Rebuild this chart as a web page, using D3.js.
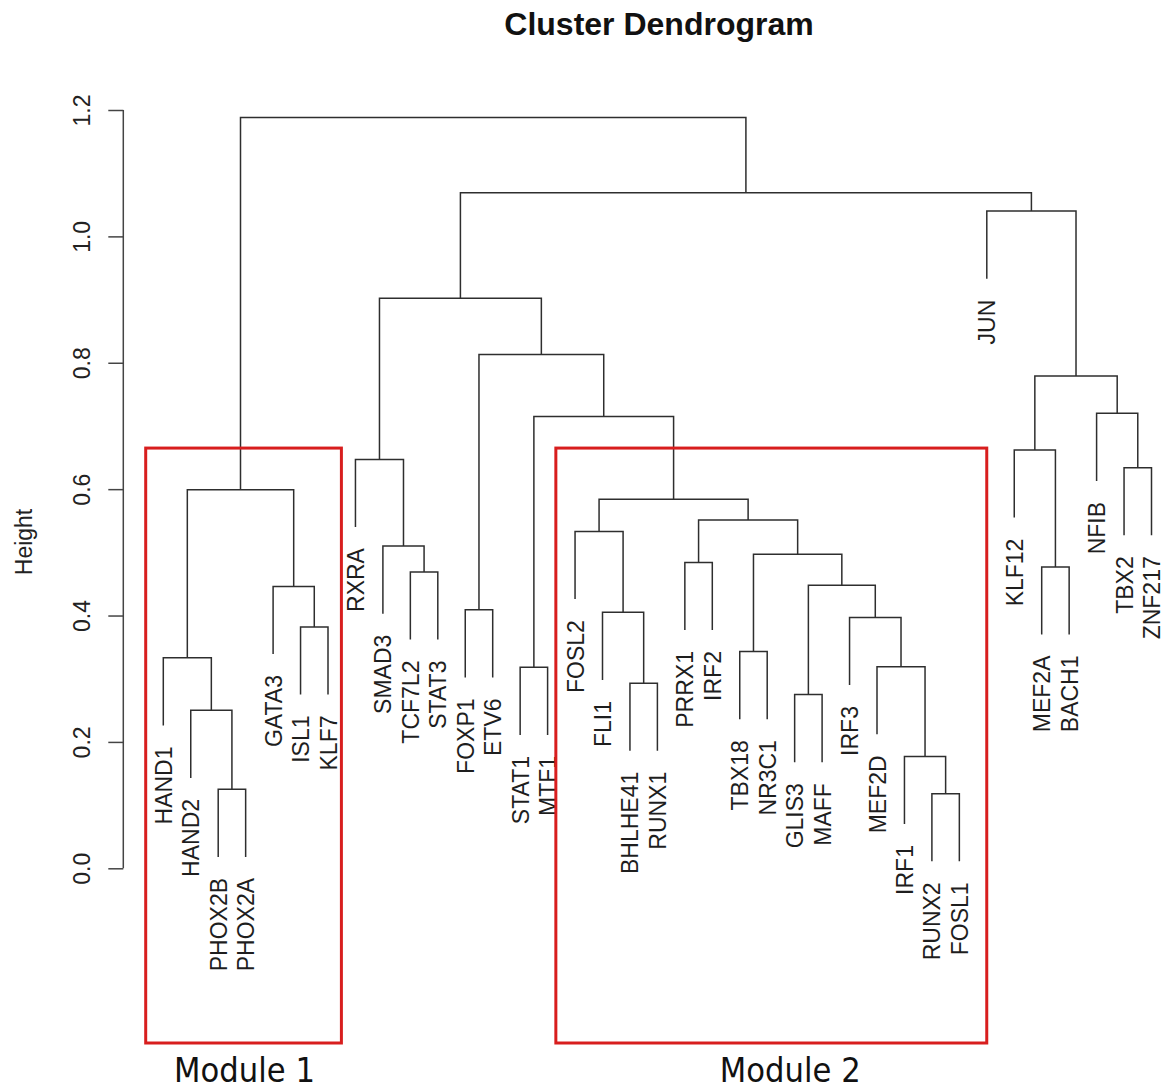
<!DOCTYPE html>
<html>
<head>
<meta charset="utf-8">
<script src="https://cdn.jsdelivr.net/npm/d3@7"></script>
<style>
  html, body { margin: 0; padding: 0; background: #fff; }
  svg { display: block; }
</style>
</head>
<body>
<svg id="chart" width="1164" height="1089"></svg>
<script>
// ---- data ----
const leafLabels = ["HAND1","HAND2","PHOX2B","PHOX2A","GATA3","ISL1","KLF7","RXRA","SMAD3","TCF7L2","STAT3","FOXP1","ETV6","STAT1","MTF1","FOSL2","FLI1","BHLHE41","RUNX1","PRRX1","IRF2","TBX18","NR3C1","GLIS3","MAFF","IRF3","MEF2D","IRF1","RUNX2","FOSL1","JUN","KLF12","MEF2A","BACH1","NFIB","TBX2","ZNF217"];
// R-style merge matrix: negative = leaf (1-based), positive = earlier merge (1-based)
const mergeLeft  = [-29, -3, -28, -2, -24, -18, -14, -27, -1, -22, -6, -26, -17, -12, -5,  5, -10, -33, -20, 10, -9, -16, 19, 22,  9, -36, -8, -32,  7, -35, 28, 14, 27, -31, 33, 25];
const mergeRight = [-30, -4,   1,  2, -25, -19, -15,   3,  4, -23, -7,   8,   6, -13, 11, 12, -11, -34, -21, 16, 17,  13, 20, 23, 15, -37, 21,  18, 24,  26, 30, 29, 32,  31, 34, 35];
const mergeHeights = [0.118, 0.125, 0.177, 0.250, 0.275, 0.293, 0.318, 0.319, 0.333, 0.343, 0.382, 0.397, 0.405, 0.409, 0.446, 0.448, 0.469, 0.477, 0.484, 0.497, 0.510, 0.533, 0.551, 0.584, 0.599, 0.634, 0.647, 0.662, 0.715, 0.720, 0.779, 0.813, 0.902, 1.040, 1.069, 1.188];
const yTicks = [0.0, 0.2, 0.4, 0.6, 0.8, 1.0, 1.2];
const titleText = "Cluster Dendrogram";
const yLabel = "Height";
const moduleNames = ["Module 1", "Module 2"];
const moduleFirstLeaf = ["HAND1", "FOSL2"];
const moduleLastLeaf = ["KLF7", "FOSL1"];
const moduleTopHeight = [0.665, 0.665];

// ---- layout ----
const svg = d3.select("#chart");
const x = d3.scalePoint().domain(leafLabels).range([163.3, 1151.5]);
const y = d3.scaleLinear().domain([0, 1.2]).range([868.3, 110]);
const hang = 0.1 * (d3.max(mergeHeights) - d3.min(mergeHeights));
const lineColor = "#2e2e2e";
const font = "'Liberation Sans', Arial, Helvetica, sans-serif";

const mx = [];
function childPos(c) {
  if (c < 0) return { x: x(leafLabels[-c - 1]), leaf: true };
  return { x: mx[c - 1], h: mergeHeights[c - 1], leaf: false };
}
const g = svg.append("g");
const lg = svg.append("g");
mergeHeights.forEach((h, i) => {
  const a = childPos(mergeLeft[i]);
  const b = childPos(mergeRight[i]);
  mx[i] = (a.x + b.x) / 2;
  const ya = a.leaf ? y(h - hang) : y(a.h);
  const yb = b.leaf ? y(h - hang) : y(b.h);
  const path = d3.path();
  path.moveTo(a.x, ya);
  path.lineTo(a.x, y(h));
  path.lineTo(b.x, y(h));
  path.lineTo(b.x, yb);
  g.append("path").attr("d", path.toString())
    .attr("fill", "none").attr("stroke", lineColor).attr("stroke-width", 1.5);
  [[mergeLeft[i], a], [mergeRight[i], b]].forEach(([c, p]) => {
    if (c < 0) {
      const yy = y(h - hang) + 21;
      lg.append("text")
        .attr("transform", `translate(${p.x + 8.5},${yy}) rotate(-90)`)
        .attr("text-anchor", "end")
        .attr("font-family", font).attr("font-size", 23)
        .attr("fill", "#1e1e1e")
        .text(leafLabels[-c - 1]);
    }
  });
});

// ---- axis ----
const axis = d3.axisLeft(y).tickValues(yTicks).tickFormat(d3.format(".1f")).tickSize(15).tickPadding(0);
const ax = svg.append("g").attr("transform", "translate(123.3,0)").call(axis);
ax.select(".domain").attr("stroke", "#444").attr("stroke-width", 1.5).attr("d", `M0,${y(0)}V${y(1.2)}`);
ax.selectAll(".tick line").attr("stroke", "#444").attr("stroke-width", 1.5);
ax.selectAll(".tick text")
  .attr("x", null).attr("dy", null)
  .attr("transform", "translate(-33.5,0) rotate(-90)")
  .attr("text-anchor", "middle")
  .attr("font-family", font).attr("font-size", 23).attr("fill", "#222");

svg.append("text")
  .attr("transform", `translate(31.5,542) rotate(-90)`)
  .attr("text-anchor", "middle")
  .attr("font-family", font).attr("font-size", 23).attr("fill", "#222")
  .text(yLabel);

// ---- title ----
svg.append("text")
  .attr("x", 659).attr("y", 35)
  .attr("text-anchor", "middle")
  .attr("font-family", font).attr("font-size", 32).attr("font-weight", "bold")
  .attr("fill", "#111")
  .text(titleText);

// ---- module boxes ----
const boxPadL = [17.6, 19.2];
const boxPadR = [13.4, 27.4];
const labelShift = [1, 19];
moduleNames.forEach((name, i) => {
  const x0 = x(moduleFirstLeaf[i]) - boxPadL[i], x1 = x(moduleLastLeaf[i]) + boxPadR[i];
  const y0 = y(moduleTopHeight[i]), y1 = 1043;
  svg.append("rect")
    .attr("x", x0).attr("y", y0).attr("width", x1 - x0).attr("height", y1 - y0)
    .attr("fill", "none").attr("stroke", "#d81e1e").attr("stroke-width", 3);
  const cx = (x0 + x1) / 2 + labelShift[i];
  svg.append("text")
    .attr("transform", `translate(${cx},1082) scale(0.93,1)`)
    .attr("text-anchor", "middle")
    .attr("font-family", "'DejaVu Sans', Verdana, sans-serif").attr("font-size", 33)
    .attr("fill", "#111")
    .text(name);
});
</script>
</body>
</html>
